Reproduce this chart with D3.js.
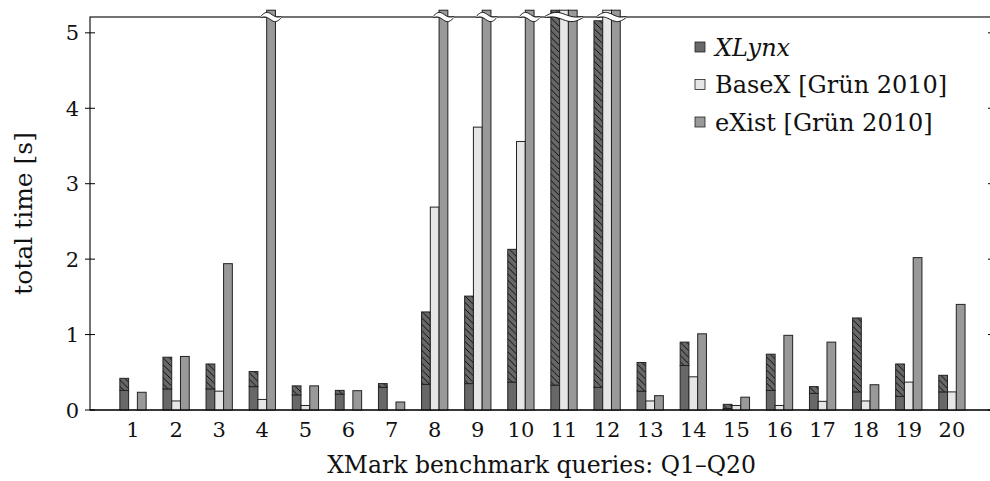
<!DOCTYPE html>
<html>
<head>
<meta charset="utf-8">
<script src="https://cdn.jsdelivr.net/npm/d3@7"></script>
<style>
  body { margin: 0; background: #fff; }
  text { font-family: "DejaVu Serif", serif; fill: #111; }
</style>
</head>
<body>
<svg id="chart" width="990" height="481"></svg>
<script>
// XMark queries Q1..Q20
var queries = ["1","2","3","4","5","6","7","8","9","10","11","12","13","14","15","16","17","18","19","20"];

// XLynx: solid lower part and total (hatched part = total - lower)
var xlynx_base  = [0.26, 0.28, 0.28, 0.31, 0.20, 0.21, 0.30, 0.34, 0.35, 0.37, 0.33, 0.30, 0.25, 0.59, 0.02, 0.26, 0.22, 0.24, 0.18, 0.24];
var xlynx_total = [0.42, 0.70, 0.61, 0.51, 0.32, 0.26, 0.35, 1.30, 1.51, 2.13, 6.0, 5.16, 0.63, 0.90, 0.075, 0.74, 0.31, 1.22, 0.61, 0.46];
// values above the axis (> 5.3 s) are cut off with a break mark
var basex = [0, 0.12, 0.25, 0.14, 0.06, 0, 0, 2.69, 3.75, 3.56, 6.0, 6.0, 0.12, 0.44, 0.06, 0.06, 0.115, 0.12, 0.37, 0.24];
var exist = [0.235, 0.71, 1.94, 6.0, 0.32, 0.256, 0.106, 6.0, 6.0, 6.0, 6.0, 6.0, 0.19, 1.01, 0.17, 0.99, 0.90, 0.335, 2.02, 1.40];

var series_names = ["XLynx", "BaseX [Grün 2010]", "eXist [Grün 2010]"];
var y_ticks = [0, 1, 2, 3, 4, 5];

var svg = d3.select("#chart");

var frame_left = 90, frame_right = 993, frame_top = 17, frame_bottom = 410;
var y_max = 5.21, y_clip = 5.3;

var col_dark = "#686868", col_light = "#e6e6e6", col_mid = "#999999", col_line = "#222";

var x = d3.scaleBand()
    .domain(queries)
    .range([111.45, 973.45])
    .paddingInner(0.39)
    .paddingOuter(0.195);

var x_sub = d3.scaleBand()
    .domain([0, 1, 2])
    .range([0, x.bandwidth()]);

var y = d3.scaleLinear()
    .domain([0, y_max])
    .range([frame_bottom, frame_top]);

// hatch pattern for the upper XLynx part
var defs = svg.append("defs");
var pat = defs.append("pattern")
    .attr("id", "hatch")
    .attr("patternUnits", "userSpaceOnUse")
    .attr("width", 6.5)
    .attr("height", 6.5);
pat.append("rect").attr("width", 6.5).attr("height", 6.5).attr("fill", col_dark);
pat.append("path")
    .attr("d", "M-1,-1 L7.5,7.5 M-1,5.5 L1,7.5 M5.5,-1 L7.5,1")
    .attr("stroke", "#000")
    .attr("stroke-width", 0.9);

// frame
svg.append("rect")
    .attr("x", frame_left).attr("y", frame_top)
    .attr("width", frame_right - frame_left).attr("height", frame_bottom - frame_top)
    .attr("fill", "none").attr("stroke", "#000").attr("stroke-width", 1.1);

// y ticks on both sides
svg.selectAll(".ytick")
    .data(y_ticks)
    .enter().append("path")
    .attr("class", "ytick")
    .attr("d", function(d) {
        var yy = y(d);
        return "M" + (frame_left - 5) + "," + yy + "H" + (frame_left + 5) +
               "M" + (frame_right - 5) + "," + yy + "H" + (frame_right + 5);
    })
    .attr("stroke", "#000").attr("stroke-width", 1);

svg.selectAll(".ylabel")
    .data(y_ticks)
    .enter().append("text")
    .attr("class", "ylabel")
    .attr("x", frame_left - 11)
    .attr("y", function(d) { return y(d); })
    .attr("dy", "0.36em")
    .attr("text-anchor", "end")
    .style("font-size", "21px")
    .text(function(d) { return d; });

// x tick labels
svg.selectAll(".xlabel")
    .data(queries)
    .enter().append("text")
    .attr("class", "xlabel")
    .attr("x", function(d) { return x(d) + x.bandwidth() / 2; })
    .attr("y", 437)
    .attr("text-anchor", "middle")
    .style("font-size", "21px")
    .text(function(d) { return d; });

// axis titles
svg.append("text")
    .attr("x", (frame_left + frame_right) / 2)
    .attr("y", 473)
    .attr("text-anchor", "middle")
    .style("font-size", "23.5px")
    .text("XMark benchmark queries: Q1–Q20");

svg.append("text")
    .attr("transform", "translate(32," + ((frame_top + frame_bottom) / 2) + ") rotate(-90)")
    .attr("text-anchor", "middle")
    .style("font-size", "25px")
    .text("total time [s]");

function barTop(v) { return y(Math.min(v, y_clip)); }

var groups = queries.map(function(q, i) {
    return { q: q, base: xlynx_base[i], total: xlynx_total[i], basex: basex[i], exist: exist[i] };
});

// draw XLynx: solid part then hatched part
svg.selectAll(".xl_base")
    .data(groups)
    .enter().append("rect")
    .attr("class", "xl_base")
    .attr("x", function(d) { return x(d.q) + x_sub(0); })
    .attr("width", x_sub.bandwidth())
    .attr("y", function(d) { return barTop(d.base); })
    .attr("height", function(d) { return frame_bottom - barTop(d.base); })
    .attr("fill", col_dark).attr("stroke", col_line).attr("stroke-width", 1);

svg.selectAll(".xl_hatch")
    .data(groups)
    .enter().append("rect")
    .attr("class", "xl_hatch")
    .attr("x", function(d) { return x(d.q) + x_sub(0); })
    .attr("width", x_sub.bandwidth())
    .attr("y", function(d) { return barTop(d.total); })
    .attr("height", function(d) { return barTop(d.base) - barTop(d.total); })
    .attr("fill", "url(#hatch)").attr("stroke", col_line).attr("stroke-width", 1);

// draw BaseX and eXist
svg.selectAll(".bx")
    .data(groups.filter(function(d) { return d.basex > 0; }))
    .enter().append("rect")
    .attr("class", "bx")
    .attr("x", function(d) { return x(d.q) + x_sub(1); })
    .attr("width", x_sub.bandwidth())
    .attr("y", function(d) { return barTop(d.basex); })
    .attr("height", function(d) { return frame_bottom - barTop(d.basex); })
    .attr("fill", col_light).attr("stroke", col_line).attr("stroke-width", 1);

svg.selectAll(".ex")
    .data(groups.filter(function(d) { return d.exist > 0; }))
    .enter().append("rect")
    .attr("class", "ex")
    .attr("x", function(d) { return x(d.q) + x_sub(2); })
    .attr("width", x_sub.bandwidth())
    .attr("y", function(d) { return barTop(d.exist); })
    .attr("height", function(d) { return frame_bottom - barTop(d.exist); })
    .attr("fill", col_mid).attr("stroke", col_line).attr("stroke-width", 1);

// bottom axis line over the bar bottoms
svg.append("line")
    .attr("x1", frame_left).attr("x2", frame_right)
    .attr("y1", frame_bottom).attr("y2", frame_bottom)
    .attr("stroke", "#000").attr("stroke-width", 1.1);

// break marks where bars go past the top
var breaks = [];
groups.forEach(function(d) {
    var vals = [d.total, d.basex, d.exist];
    var cut = [];
    vals.forEach(function(v, k) { if (v > y_max) cut.push(k); });
    if (cut.length > 0) {
        breaks.push({
            x0: x(d.q) + x_sub(cut[0]) - 6,
            x1: x(d.q) + x_sub(cut[cut.length - 1]) + x_sub.bandwidth() + 6
        });
    }
});

function wave(b, side) {
    var pts = [];
    for (var k = 0; k <= 24; k++) {
        var t = k / 24;
        var xx = b.x0 + t * (b.x1 - b.x0);
        var mid = frame_top - 2.2 * Math.sin(2 * Math.PI * t);
        var half = 0.6 + 2.4 * Math.sin(Math.PI * t);
        pts.push([xx, mid + side * half]);
    }
    return pts;
}

var line_gen = d3.line().curve(d3.curveBasis);

svg.selectAll(".brk_fill")
    .data(breaks)
    .enter().append("path")
    .attr("class", "brk_fill")
    .attr("d", function(b) {
        var top = wave(b, -1), bot = wave(b, 1).reverse();
        return d3.line()(top.concat(bot)) + "Z";
    })
    .attr("fill", "#fff");

svg.selectAll(".brk_line")
    .data(breaks.concat(breaks))
    .enter().append("path")
    .attr("class", "brk_line")
    .attr("d", function(b, i) { return line_gen(wave(b, i < breaks.length ? -1 : 1)); })
    .attr("fill", "none").attr("stroke", "#000").attr("stroke-width", 0.9);

// legend
var legend_fill = [col_dark, col_light, col_mid];
var legend = svg.selectAll(".legend")
    .data(series_names)
    .enter().append("g")
    .attr("class", "legend")
    .attr("transform", function(d, i) { return "translate(695," + (47 + i * 37.5) + ")"; });

legend.append("rect")
    .attr("x", 0).attr("y", -5)
    .attr("width", 10).attr("height", 10)
    .attr("fill", function(d, i) { return legend_fill[i]; })
    .attr("stroke", col_line).attr("stroke-width", 0.8);

legend.append("text")
    .attr("x", 20)
    .attr("dy", "0.36em")
    .style("font-size", "24px")
    .style("font-style", function(d, i) { return i == 0 ? "italic" : "normal"; })
    .text(function(d) { return d; });
</script>
</body>
</html>
